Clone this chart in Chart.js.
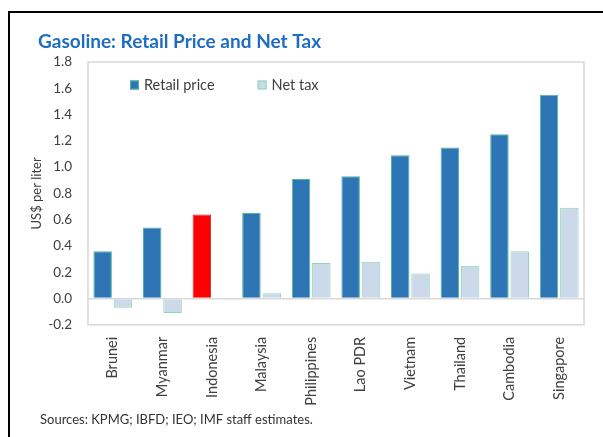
<!DOCTYPE html>
<html>
<head>
<meta charset="utf-8">
<script src="https://cdn.jsdelivr.net/npm/chart.js@4/dist/chart.umd.min.js"></script>
<style>
  html, body { margin: 0; padding: 0; background: #fff; }
  #wrap { position: relative; width: 603px; height: 437px; overflow: hidden; }
  #frame {
    position: absolute; left: 8px; top: 11px; width: 700px; height: 500px;
    border-left: 2.5px solid #000; border-top: 2.5px solid #000;
  }
  #chart { position: absolute; left: 0; top: 0; }
</style>
</head>
<body>
<div id="wrap">
  <div id="frame"></div>
  <canvas id="chart" width="603" height="437"></canvas>
</div>
<script>
// Datos
const categories = ['Brunei', 'Myanmar', 'Indonesia', 'Malaysia', 'Philippines',
                    'Lao PDR', 'Vietnam', 'Thailand', 'Cambodia', 'Singapore'];
const retailPrice = [0.36, 0.54, 0.64, 0.65, 0.91, 0.93, 1.09, 1.15, 1.25, 1.55];
const netTax = [-0.07, -0.11, null, 0.04, 0.27, 0.28, 0.19, 0.25, 0.36, 0.69];
const highlighted = 'Indonesia';
const yMin = -0.2;
const yMax = 1.8;
const yStep = 0.2;
const titleText = 'Gasoline: Retail Price and Net Tax';
const yTitle = 'US$ per liter';
const sourcesText = 'Sources: KPMG; IBFD; IEO; IMF staff estimates.';

const FONT = 'Lato, "Liberation Sans", sans-serif';
const GREY = '#d9d9d9';
const TEXT = '#404040';

// caja gris alrededor del área del gráfico
const plotBox = {
    id: 'plotBox',
    afterDraw(chart) {
        const a = chart.chartArea;
        const ctx = chart.ctx;
        ctx.save();
        ctx.strokeStyle = GREY;
        ctx.lineWidth = 1.5;
        ctx.strokeRect(a.left, a.top, a.right - a.left, a.bottom - a.top);
        ctx.restore();
    }
};

// leyenda dentro del área, en una sola fila
const insideLegend = {
    id: 'insideLegend',
    afterDraw(chart) {
        const items = Chart.defaults.plugins.legend.labels.generateLabels(chart);
        const ctx = chart.ctx;
        const box = 9, gap = 5, spacing = 43;
        let x = chart.chartArea.left + 42;
        const y = chart.chartArea.top + 23;
        ctx.save();
        ctx.font = '14.5px ' + FONT;
        ctx.textBaseline = 'middle';
        items.forEach(it => {
            ctx.fillStyle = it.fillStyle;
            ctx.fillRect(x, y - box / 2, box, box);
            ctx.strokeStyle = it.strokeStyle;
            ctx.lineWidth = 1;
            ctx.strokeRect(x + 0.5, y - box / 2 + 0.5, box - 1, box - 1);
            ctx.fillStyle = TEXT;
            ctx.fillText(it.text, x + box + gap, y);
            x += box + gap + ctx.measureText(it.text).width + spacing;
        });
        ctx.restore();
    }
};

// mover título y fuentes a su sitio
const placeBoxes = {
    id: 'placeBoxes',
    afterLayout(chart) {
        const move = (b, x) => {
            const w = b.right - b.left;
            b.left = x;
            b.right = x + w;
        };
        chart.boxes.forEach(b => {
            if (b === chart.titleBlock) move(b, 38);
            else if (b.options && b.options.text === sourcesText) move(b, 40);
        });
    }
};

const ctx = document.getElementById('chart').getContext('2d');
new Chart(ctx, {
    type: 'bar',
    data: {
        labels: categories,
        datasets: [{
            label: 'Retail price',
            data: retailPrice,
            backgroundColor: c => categories[c.dataIndex] === highlighted ? '#ff0000' : '#2e75b6',
            borderColor: c => categories[c.dataIndex] === highlighted ? '#c03030' : '#4db895',
            borderWidth: 1,
            categoryPercentage: 0.82,
            barPercentage: 0.91
        }, {
            label: 'Net tax',
            data: netTax,
            backgroundColor: '#cbd9eb',
            borderColor: '#8fd8b0',
            borderWidth: 1,
            categoryPercentage: 0.82,
            barPercentage: 0.91
        }]
    },
    options: {
        responsive: false,
        animation: false,
        layout: { padding: { left: 29, right: 19, top: 30, bottom: 9.6 } },
        scales: {
            x: {
                grid: { display: false, drawTicks: false },
                border: { display: false },
                ticks: {
                    autoSkip: false, minRotation: 90, maxRotation: 90, padding: 12,
                    color: TEXT, font: { family: FONT, size: 14.5 }
                },
                afterFit(scale) { scale.height = 85; }
            },
            y: {
                min: yMin, max: yMax,
                grid: {
                    drawTicks: false,
                    color: c => Math.abs(c.tick ? c.tick.value : 1) < 1e-9 ? GREY : 'rgba(0,0,0,0)',
                    lineWidth: 1.5
                },
                border: { display: false },
                ticks: {
                    stepSize: yStep, padding: 16, color: TEXT,
                    font: { family: FONT, size: 13.5 },
                    callback: v => v.toFixed(1)
                },
                title: {
                    display: true, text: yTitle, color: TEXT,
                    font: { family: FONT, size: 13 }, padding: { top: 0, bottom: 0 }
                },
                afterFit(scale) { scale.width = 59; }
            }
        },
        plugins: {
            title: {
                display: true, text: titleText, align: 'start', color: '#1f6dc2',
                font: { family: FONT, size: 19, weight: 'bold' },
                padding: { top: 0, bottom: 9.2 }
            },
            subtitle: {
                display: true, text: sourcesText, position: 'bottom', align: 'start',
                color: '#333333', font: { family: FONT, size: 13 },
                padding: { top: 2, bottom: 0 }
            },
            legend: { display: false },
            tooltip: { enabled: false }
        }
    },
    plugins: [placeBoxes, plotBox, insideLegend]
});
</script>
</body>
</html>
